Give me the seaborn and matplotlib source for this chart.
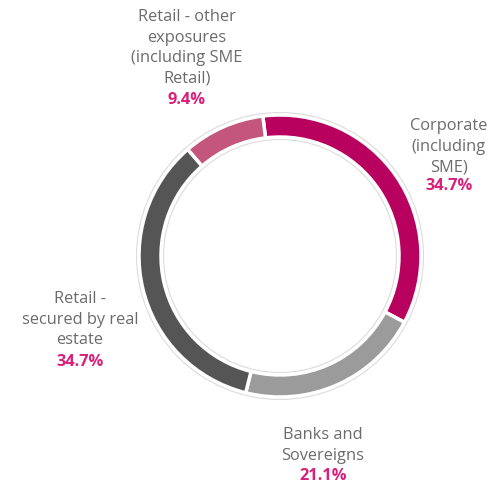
import matplotlib
matplotlib.use("Agg")
import matplotlib.pyplot as plt
import seaborn as sns

# data
labels = ["Corporate\n(including\nSME)", "Banks and\nSovereigns",
          "Retail -\nsecured by real\nestate",
          "Retail - other\nexposures\n(including SME\nRetail)"]
shares = [34.7, 21.1, 34.7, 9.4]
pct_text = ["34.7%", "21.1%", "34.7%", "9.4%"]
colors = ["#b8005e", "#9b9b9b", "#555555", "#c4567e"]

sns.set_theme(style="white")
plt.rcParams['font.family'] = ['Open Sans', 'DejaVu Sans']

W, H = 497, 487
fig = plt.figure(figsize=(W / 100, H / 100), dpi=100)
ax = fig.add_axes([0, 0, 1, 1])

cx, cy, r = 280, H - 256, 141
ax.pie(shares, colors=colors, startangle=97, counterclock=False,
       center=(cx, cy), radius=r,
       wedgeprops=dict(width=22, edgecolor="white", linewidth=2.5))

# faint outline rings
for rr in (r + 2.5, r - 24.5):
    ax.add_patch(plt.Circle((cx, cy), rr, fill=False, ec="#dcdcdc", lw=0.8))

ax.set_xlim(0, W)
ax.set_ylim(0, H)
ax.set_aspect("equal")
ax.axis("off")

# label positions (x, label top y, pct y) in pixel coords
pos = [(449, 118, 186), (323, 427, 476), (80, 291, 362), (187, 9, 100)]
for lab, pt, (x, ytop, yp) in zip(labels, pct_text, pos):
    ax.text(x, H - ytop, lab, ha="center", va="top", fontsize=11.8,
            color="#6b6b6b", linespacing=1.38)
    ax.text(x, H - yp, pt, ha="center", va="center", fontsize=11.8,
            color="#d81f7a", fontweight="bold")

fig.savefig("out.png", dpi=100)
